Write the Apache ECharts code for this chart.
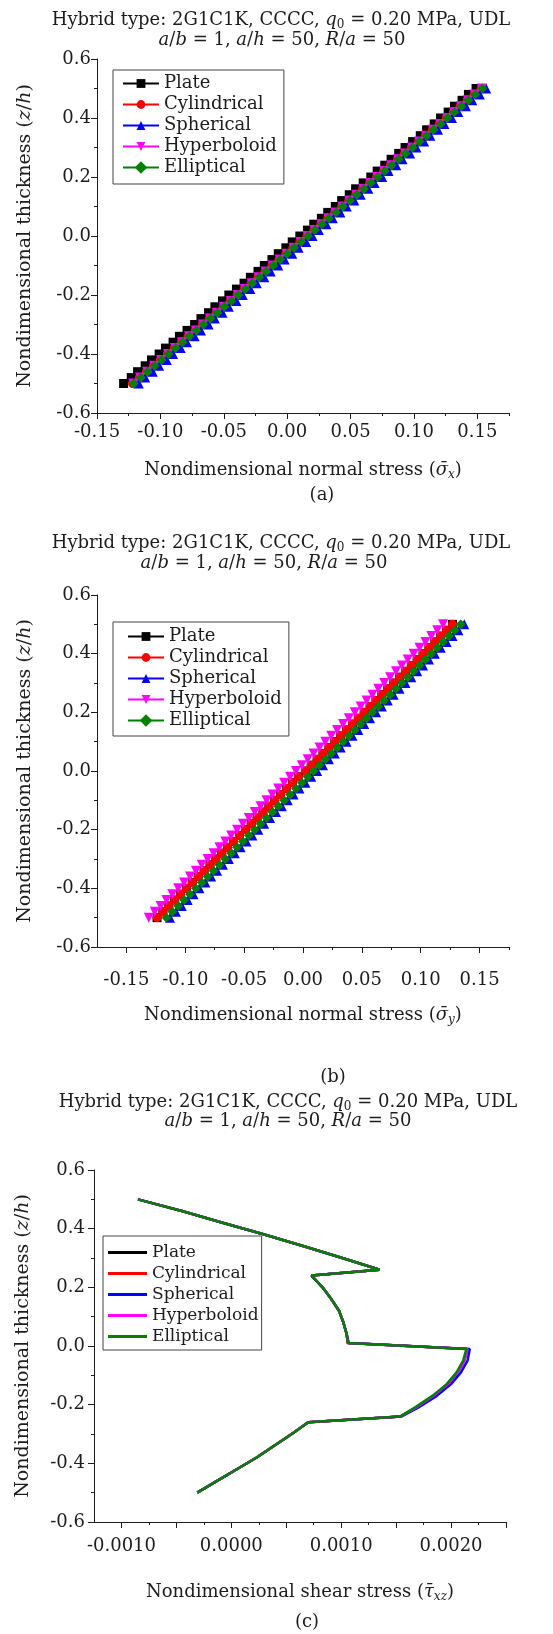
<!DOCTYPE html>
<html>
<head>
<meta charset="utf-8">
<script src="https://cdn.jsdelivr.net/npm/echarts@6/dist/echarts.min.js"></script>
<style>
  html, body { margin: 0; padding: 0; background: #fff; }
  .panel { position: absolute; left: 0; width: 553px; }
</style>
</head>
<body>
<div id="panelA" class="panel" style="top:0;height:520px"></div>
<div id="panelB" class="panel" style="top:520px;height:565px"></div>
<div id="panelC" class="panel" style="top:1085px;height:549px"></div>
<script>
// ---- shared categories ----
const seriesNames = ['Plate', 'Cylindrical', 'Spherical', 'Hyperboloid', 'Elliptical'];

// thickness coordinate z/h for the normal-stress profiles
const zLevels = [-0.50,-0.48,-0.46,-0.44,-0.42,-0.40,-0.38,-0.36,-0.34,-0.32,-0.30,-0.28,-0.26,-0.24,-0.22,-0.20,-0.18,-0.16,-0.14,-0.12,-0.10,-0.08,-0.06,-0.04,-0.02,0.00,0.02,0.04,0.06,0.08,0.10,0.12,0.14,0.16,0.18,0.20,0.22,0.24,0.26,0.28,0.30,0.32,0.34,0.36,0.38,0.40,0.42,0.44,0.46,0.48,0.50];

// (a) normal stress sigma_x
const plateSigmaX = [-0.129,-0.123,-0.118,-0.112,-0.107,-0.101,-0.096,-0.090,-0.085,-0.079,-0.073,-0.068,-0.062,-0.057,-0.051,-0.046,-0.040,-0.034,-0.029,-0.023,-0.018,-0.012,-0.007,-0.001,0.004,0.010,0.016,0.021,0.027,0.032,0.038,0.043,0.049,0.054,0.060,0.066,0.071,0.077,0.082,0.088,0.093,0.099,0.105,0.110,0.116,0.121,0.127,0.132,0.138,0.143,0.149];
const cylindricalSigmaX = [-0.122,-0.1165,-0.111,-0.1055,-0.100,-0.0945,-0.089,-0.0835,-0.078,-0.0725,-0.067,-0.0615,-0.056,-0.0505,-0.045,-0.0395,-0.034,-0.0285,-0.023,-0.0175,-0.012,-0.0065,-0.001,0.0045,0.010,0.0155,0.021,0.0265,0.032,0.0375,0.043,0.0485,0.054,0.0595,0.065,0.0705,0.076,0.0815,0.087,0.0925,0.098,0.1035,0.109,0.1145,0.120,0.1255,0.131,0.1365,0.142,0.1475,0.153];
const sphericalSigmaX = [-0.117,-0.112,-0.106,-0.101,-0.095,-0.090,-0.084,-0.079,-0.073,-0.068,-0.062,-0.057,-0.051,-0.046,-0.040,-0.035,-0.029,-0.024,-0.018,-0.013,-0.007,-0.002,0.004,0.009,0.015,0.020,0.025,0.031,0.036,0.042,0.047,0.053,0.058,0.064,0.069,0.075,0.080,0.086,0.091,0.097,0.102,0.108,0.113,0.119,0.124,0.130,0.135,0.141,0.146,0.152,0.157];
const hyperboloidSigmaX = [-0.1215,-0.116,-0.1105,-0.105,-0.0995,-0.094,-0.0885,-0.083,-0.0775,-0.072,-0.0665,-0.061,-0.0555,-0.050,-0.0445,-0.039,-0.0335,-0.028,-0.0225,-0.017,-0.0115,-0.006,-0.0005,0.005,0.0105,0.016,0.0215,0.027,0.0325,0.038,0.0435,0.049,0.0545,0.060,0.0655,0.071,0.0765,0.082,0.0875,0.093,0.0985,0.104,0.1095,0.115,0.1205,0.126,0.1315,0.137,0.1425,0.148,0.1535];
const ellipticalSigmaX = [-0.121,-0.1155,-0.110,-0.1045,-0.099,-0.0935,-0.088,-0.0825,-0.077,-0.0715,-0.066,-0.0605,-0.055,-0.0495,-0.044,-0.0385,-0.033,-0.0275,-0.022,-0.0165,-0.011,-0.0055,0.000,0.0055,0.011,0.0165,0.022,0.0275,0.033,0.0385,0.044,0.0495,0.055,0.0605,0.066,0.0715,0.077,0.0825,0.088,0.0935,0.099,0.1045,0.110,0.1155,0.121,0.1265,0.132,0.1375,0.143,0.1485,0.154];

// (b) normal stress sigma_y
const plateSigmaY = [-0.124,-0.119,-0.114,-0.109,-0.104,-0.099,-0.094,-0.089,-0.084,-0.079,-0.074,-0.069,-0.064,-0.059,-0.054,-0.049,-0.044,-0.039,-0.034,-0.029,-0.024,-0.019,-0.014,-0.009,-0.004,0.002,0.007,0.012,0.017,0.022,0.027,0.032,0.037,0.042,0.047,0.052,0.057,0.062,0.067,0.072,0.077,0.082,0.087,0.092,0.097,0.102,0.107,0.112,0.117,0.122,0.127];
const cylindricalSigmaY = [-0.124,-0.119,-0.114,-0.109,-0.104,-0.099,-0.094,-0.089,-0.084,-0.079,-0.074,-0.069,-0.064,-0.059,-0.054,-0.049,-0.044,-0.039,-0.034,-0.029,-0.024,-0.019,-0.014,-0.009,-0.004,0.002,0.007,0.012,0.017,0.022,0.027,0.032,0.037,0.042,0.047,0.052,0.057,0.062,0.067,0.072,0.077,0.082,0.087,0.092,0.097,0.102,0.107,0.112,0.117,0.122,0.127];
const sphericalSigmaY = [-0.113,-0.108,-0.103,-0.098,-0.093,-0.088,-0.083,-0.078,-0.073,-0.068,-0.063,-0.058,-0.053,-0.048,-0.043,-0.038,-0.033,-0.028,-0.023,-0.018,-0.013,-0.008,-0.003,0.002,0.007,0.012,0.017,0.022,0.027,0.032,0.037,0.042,0.047,0.052,0.057,0.062,0.067,0.072,0.077,0.082,0.087,0.092,0.097,0.102,0.107,0.112,0.117,0.122,0.127,0.132,0.137];
const hyperboloidSigmaY = [-0.131,-0.126,-0.121,-0.116,-0.111,-0.106,-0.101,-0.096,-0.091,-0.086,-0.081,-0.076,-0.071,-0.066,-0.061,-0.056,-0.051,-0.046,-0.041,-0.036,-0.031,-0.026,-0.021,-0.016,-0.011,-0.006,-0.001,0.004,0.009,0.014,0.019,0.024,0.029,0.034,0.039,0.044,0.049,0.054,0.059,0.064,0.069,0.074,0.079,0.084,0.089,0.094,0.099,0.104,0.109,0.114,0.119];
const ellipticalSigmaY = [-0.116,-0.111,-0.106,-0.101,-0.096,-0.091,-0.086,-0.081,-0.076,-0.071,-0.066,-0.061,-0.056,-0.051,-0.046,-0.041,-0.036,-0.031,-0.026,-0.021,-0.016,-0.011,-0.006,-0.001,0.004,0.009,0.014,0.019,0.024,0.029,0.034,0.039,0.044,0.049,0.054,0.059,0.064,0.069,0.074,0.079,0.084,0.089,0.094,0.099,0.104,0.109,0.114,0.119,0.124,0.129,0.134];

// (c) transverse shear stress tau_xz, four layers from top to bottom
const shearLevels = [0.50,0.46,0.42,0.38,0.34,0.30,0.26, 0.24,0.20,0.16,0.12,0.08,0.04,0.01, -0.01,-0.05,-0.09,-0.13,-0.17,-0.21,-0.24, -0.26,-0.30,-0.34,-0.38,-0.42,-0.46,-0.50];
const plateTauXZ       = [-0.00085,-0.00045,-0.00008,0.00030,0.00066,0.00101,0.00135, 0.00073,0.00083,0.00091,0.00098,0.00102,0.00105,0.00106, 0.00215,0.00212,0.00206,0.00197,0.00184,0.00168,0.00154, 0.00070,0.00055,0.00039,0.00023,0.00005,-0.00013,-0.00031];
const cylindricalTauXZ = [-0.00085,-0.00045,-0.00008,0.00030,0.00066,0.00101,0.00135, 0.00073,0.00083,0.00091,0.00098,0.00102,0.00105,0.00106, 0.00215,0.00212,0.00206,0.00197,0.00184,0.00168,0.00154, 0.00070,0.00055,0.00039,0.00023,0.00005,-0.00013,-0.00031];
const sphericalTauXZ   = [-0.00085,-0.00045,-0.00008,0.00030,0.00066,0.00101,0.00135, 0.00073,0.00083,0.00091,0.00098,0.00102,0.00105,0.00107, 0.00217,0.00215,0.00209,0.00200,0.00187,0.00170,0.00155, 0.00070,0.00055,0.00039,0.00023,0.00005,-0.00013,-0.00031];
const hyperboloidTauXZ = [-0.00085,-0.00045,-0.00008,0.00030,0.00066,0.00101,0.00135, 0.00073,0.00083,0.00091,0.00098,0.00102,0.00105,0.00106, 0.00215,0.00212,0.00206,0.00197,0.00184,0.00168,0.00154, 0.00070,0.00055,0.00039,0.00023,0.00005,-0.00013,-0.00031];
const ellipticalTauXZ  = [-0.00085,-0.00045,-0.00008,0.00030,0.00066,0.00101,0.00135, 0.00073,0.00083,0.00091,0.00098,0.00102,0.00105,0.00106, 0.00214,0.00211,0.00205,0.00196,0.00183,0.00167,0.00154, 0.00070,0.00055,0.00039,0.00023,0.00005,-0.00013,-0.00031];

// ---- tick positions ----
const normalMajorTicks = [-0.15,-0.10,-0.05,0.00,0.05,0.10,0.15];
const normalMinorTicks = [-0.125,-0.075,-0.025,0.025,0.075,0.125,0.175];
const shearMajorTicks  = [-0.0010,-0.0005,0.0000,0.0005,0.0010,0.0015,0.0020,0.0025];
const shearLabelTicks  = [-0.0010,0.0000,0.0010,0.0020];
const shearMinorTicks  = [-0.00075,-0.00025,0.00025,0.00075,0.00125,0.00175,0.00225];

// ---- styling ----
const FONT = 'DejaVu Serif';
const INK = '#1c1c1c';
const seriesColors = ['#000000', '#ff0000', '#0000ff', '#ff00ff', '#008000'];
const markerShapes = ['rect', 'circle', 'triangle', 'triangle', 'rect'];
const markerRotations = [0, 0, 0, 180, 45];
const markerSizes = [9, 9, 10, 10, 7];

function mathRich(size) {
  return {
    i: { fontStyle: 'italic', fontFamily: FONT, fontSize: size, lineHeight: size + 4 },
    s: { fontStyle: 'italic', fontFamily: FONT, fontSize: 12, lineHeight: 12, verticalAlign: 'bottom' },
    n: { fontFamily: FONT, fontSize: 12, lineHeight: 12, verticalAlign: 'bottom' }
  };
}
const richMath = mathRich(18);

function textEl(x, y, text) {
  return {
    type: 'text', x, y, silent: true,
    style: {
      text, fill: INK, fontFamily: FONT, fontSize: 18, lineHeight: 22,
      align: 'center', verticalAlign: 'middle', rich: richMath
    }
  };
}

const titleLine1 = 'Hybrid type: 2G1C1K, CCCC, {i|q}{n|0} = 0.20 MPa, UDL';
const titleLine2 = '{i|a}/{i|b} = 1, {i|a}/{i|h} = 50, {i|R}/{i|a} = 50';

function thicknessAxis(labelMargin, nameGap) {
  return {
    type: 'value', min: -0.6, max: 0.6, interval: 0.2,
    axisLine: { show: true, onZero: false, lineStyle: { color: INK, width: 1 } },
    axisTick: { show: true, inside: false, length: 6, lineStyle: { color: INK } },
    minorTick: { show: true, splitNumber: 2, length: 3, lineStyle: { color: INK } },
    axisLabel: { margin: labelMargin, color: INK, fontFamily: FONT, fontSize: 18, formatter: v => v.toFixed(1) },
    splitLine: { show: false }, minorSplitLine: { show: false },
    name: 'Nondimensional thickness ({i|z}/{i|h})', nameLocation: 'middle', nameGap,
    nameTextStyle: { color: INK, fontFamily: FONT, fontSize: 19, lineHeight: 23, rich: mathRich(19) }
  };
}

function stressAxes(min, max, majors, labels, minors, digits, labelMargin, name, nameGap) {
  return [{
    type: 'value', min, max,
    axisLine: { show: true, onZero: false, lineStyle: { color: INK, width: 1 } },
    axisTick: { show: true, inside: false, length: 6, customValues: majors, lineStyle: { color: INK } },
    axisLabel: { customValues: labels, margin: labelMargin, color: INK, fontFamily: FONT, fontSize: 18,
                 formatter: v => v.toFixed(digits) },
    splitLine: { show: false },
    name, nameLocation: 'middle', nameGap,
    nameTextStyle: { color: INK, fontFamily: FONT, fontSize: 18, lineHeight: 22, rich: richMath }
  }, {
    type: 'value', min, max, position: 'bottom',
    axisLine: { show: false, onZero: false },
    axisTick: { show: true, inside: false, length: 3, customValues: minors, lineStyle: { color: INK } },
    axisLabel: { show: false }, splitLine: { show: false }
  }];
}

function markerSeries(values, idx) {
  return {
    name: seriesNames[idx], type: 'line', xAxisIndex: 0, yAxisIndex: 0,
    data: zLevels.map((z, i) => [values[i], z]),
    symbol: markerShapes[idx], symbolSize: markerSizes[idx], symbolRotate: markerRotations[idx],
    showSymbol: true,
    lineStyle: { color: seriesColors[idx], width: 1 },
    itemStyle: { color: seriesColors[idx] },
    z: 2 + idx
  };
}

function shearSeries(values, idx) {
  return {
    name: seriesNames[idx], type: 'line', xAxisIndex: 0, yAxisIndex: 0,
    data: shearLevels.map((z, i) => [values[i], z]),
    symbol: 'none',
    lineStyle: { color: seriesColors[idx], width: 2.5 },
    itemStyle: { color: seriesColors[idx] },
    z: 2 + idx
  };
}

function legendBox(left, top, padding, itemWidth, icon, fontSize) {
  const lg = {
    orient: 'vertical', left, top, padding, itemGap: 0, itemWidth, itemHeight: icon ? 3 : 11,
    borderColor: '#444', borderWidth: 1, borderRadius: 0, backgroundColor: '#fff',
    selectedMode: false, data: seriesNames,
    textStyle: { color: INK, fontFamily: FONT, fontSize, lineHeight: 21 }
  };
  if (icon) lg.icon = icon;
  return lg;
}

// ---- panel (a) ----
const optionA = {
  animation: false,
  grid: { left: 97, top: 59, width: 412, height: 354 },
  xAxis: stressAxes(-0.15, 0.175, normalMajorTicks, normalMajorTicks, normalMinorTicks, 2, 10,
    'Nondimensional normal stress ({i|σ̄}{s|x})', 46),
  yAxis: thicknessAxis(6, 60),
  legend: legendBox(113, 70, [3, 7, 6, 9], 36, null, 18),
  series: [plateSigmaX, cylindricalSigmaX, sphericalSigmaX, hyperboloidSigmaX, ellipticalSigmaX]
    .map((v, i) => markerSeries(v, i)),
  graphic: [textEl(281, 20, titleLine1), textEl(282, 40, titleLine2), textEl(322, 495, '(a)')]
};

// ---- panel (b) ----
const optionB = {
  animation: false,
  grid: { left: 97, top: 75, width: 412, height: 352 },
  xAxis: stressAxes(-0.175, 0.175, normalMajorTicks, normalMajorTicks, normalMinorTicks, 2, 24,
    'Nondimensional normal stress ({i|σ̄}{s|y})', 57),
  yAxis: thicknessAxis(6, 60),
  legend: legendBox(113, 102, [4, 7, 5, 14], 36, null, 18),
  series: [plateSigmaY, cylindricalSigmaY, sphericalSigmaY, hyperboloidSigmaY, ellipticalSigmaY]
    .map((v, i) => markerSeries(v, i)),
  graphic: [textEl(281, 23, titleLine1), textEl(264, 43, titleLine2), textEl(333, 557, '(b)')]
};

// ---- panel (c) ----
const optionC = {
  animation: false,
  grid: { left: 94, top: 85, width: 412, height: 352 },
  xAxis: stressAxes(-0.00125, 0.0025, shearMajorTicks, shearLabelTicks, shearMinorTicks, 4, 15,
    'Nondimensional shear stress ({i|τ̄}{s|xz})', 59),
  yAxis: thicknessAxis(9, 59),
  legend: legendBox(103, 151, [6, 3, 3, 5], 39, 'rect', 17),
  series: [plateTauXZ, cylindricalTauXZ, sphericalTauXZ, hyperboloidTauXZ, ellipticalTauXZ]
    .map((v, i) => shearSeries(v, i)),
  graphic: [textEl(288, 17, titleLine1), textEl(288, 36, titleLine2), textEl(307, 537, '(c)')]
};

echarts.init(document.getElementById('panelA'), null, { renderer: 'canvas' }).setOption(optionA);
echarts.init(document.getElementById('panelB'), null, { renderer: 'canvas' }).setOption(optionB);
echarts.init(document.getElementById('panelC'), null, { renderer: 'canvas' }).setOption(optionC);
</script>
</body>
</html>
